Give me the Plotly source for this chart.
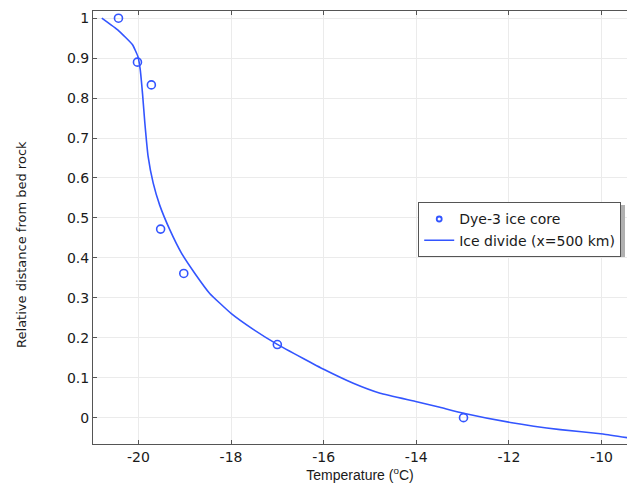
import plotly.graph_objects as go

# Dye-3 ice core measurements
core_temp = [-20.43, -20.02, -19.72, -19.52, -19.02, -17.0, -12.98]
core_dist = [1.0, 0.89, 0.833, 0.472, 0.361, 0.183, 0.0]

# Ice divide (x=500 km) model curve
divide_temp = [-20.79, -20.43, -20.13, -20.01, -19.96, -19.91, -19.86, -19.79, -19.68,
               -19.54, -19.32, -19.07, -18.78, -18.46, -18.00, -17.52, -17.01, -16.44,
               -16.00, -15.36, -14.78, -13.99, -13.49, -12.98, -11.97, -10.89, -9.97, -9.40]
divide_dist = [1.0, 0.969, 0.934, 0.904, 0.871, 0.81, 0.737, 0.654, 0.587,
               0.532, 0.470, 0.412, 0.361, 0.311, 0.261, 0.221, 0.184, 0.148,
               0.121, 0.086, 0.061, 0.040, 0.026, 0.011, -0.012, -0.030, -0.041, -0.051]

x_ticks = [-20, -18, -16, -14, -12, -10]
y_ticks = [0, 0.1, 0.2, 0.3, 0.4, 0.5, 0.6, 0.7, 0.8, 0.9, 1]

blue = "#3355ff"
fig = go.Figure()
fig.add_trace(go.Scatter(x=core_temp, y=core_dist, mode="markers", name="Dye-3 ice core",
                         showlegend=False,
                         marker=dict(symbol="circle-open", size=8, color=blue,
                                     line=dict(width=1.6, color=blue))))
fig.add_trace(go.Scatter(x=divide_temp, y=divide_dist, mode="lines", name="Ice divide (x=500 km)",
                         showlegend=False,
                         line=dict(color=blue, width=1.6, shape="spline", smoothing=0.4)))
# legend entries (smaller legend marker as in the reference)
fig.add_trace(go.Scatter(x=[None], y=[None], mode="markers", name="Dye-3 ice core",
                         marker=dict(symbol="circle-open", size=5, color=blue,
                                     line=dict(width=1.8, color=blue))))
fig.add_trace(go.Scatter(x=[None], y=[None], mode="lines", name="Ice divide (x=500 km)",
                         line=dict(color=blue, width=1.4)))

axis_common = dict(showgrid=True, gridcolor="#ebebeb", gridwidth=1, zeroline=False,
                   showline=True, linecolor="#555555", linewidth=1,
                   ticks="inside", ticklen=4, tickcolor="#555555",
                   tickfont=dict(family="DejaVu Sans", size=14, color="#1a1a1a"))

fig.update_layout(
    width=627, height=490,
    margin=dict(l=93, r=0, t=11, b=46),
    paper_bgcolor="white", plot_bgcolor="white",
    xaxis=dict(range=[-20.98, -9.45], tickvals=x_ticks,
               ticktext=[str(v) for v in x_ticks], mirror="ticks",
               title=dict(text="Temperature (<sup>o</sup>C)", standoff=5,
                          font=dict(family="Liberation Sans", size=14, color="#1a1a1a")),
               **axis_common),
    yaxis=dict(range=[-0.066, 1.018], tickvals=y_ticks,
               ticktext=[("%g" % v) for v in y_ticks], **axis_common),
    showlegend=True,
    legend=dict(x=0.609, y=0.558, xanchor="left", yanchor="top",
                bgcolor="white", bordercolor="#555555", borderwidth=1,
                font=dict(family="DejaVu Sans", size=14, color="#1a1a1a"),
                tracegroupgap=0),
    shapes=[dict(type="rect", xref="paper", yref="paper",
                 x0=(421 - 93) / 534, x1=(625 - 93) / 534,
                 y0=(444 - 257) / 433, y1=(444 - 205) / 433,
                 line=dict(width=0), fillcolor="#b0b0b0", layer="above")],
    annotations=[dict(text="Relative distance from bed rock", textangle=-90,
                      xref="paper", yref="paper", x=-0.133, y=0.462,
                      xanchor="center", yanchor="middle", showarrow=False,
                      font=dict(family="DejaVu Sans", size=13, color="#1a1a1a"))],
)

fig.write_html("out.html")
